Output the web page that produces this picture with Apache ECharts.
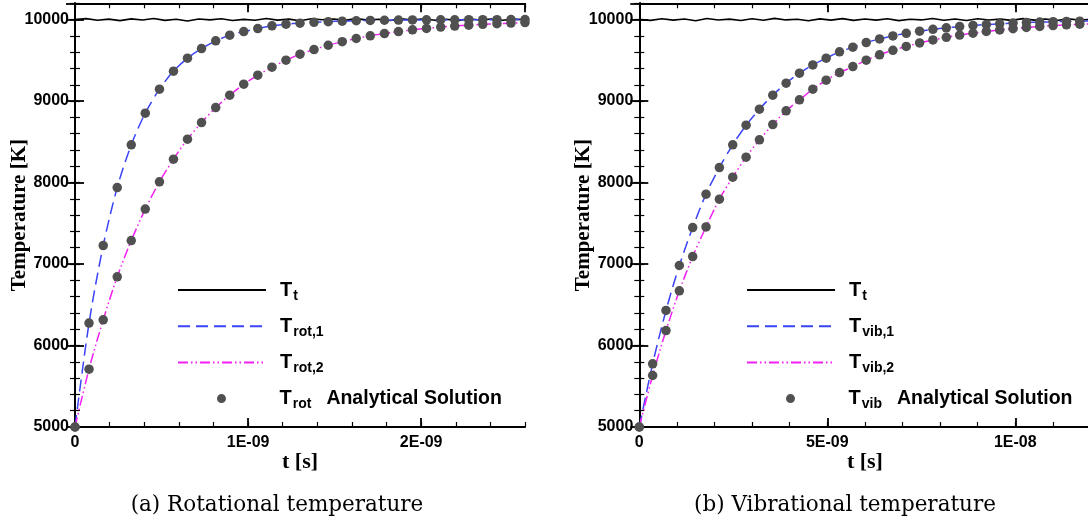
<!DOCTYPE html>
<html>
<head>
<meta charset="utf-8">
<script src="https://cdn.jsdelivr.net/npm/echarts@6.0.0/dist/echarts.min.js"></script>
<style>
html,body{margin:0;padding:0;background:#fff;}
#c{width:1088px;height:522px;}
</style>
</head>
<body>
<div id="c"></div>
<script>
// ---------- DATA (time in units of 1E-09 s) ----------
// (a) rotational
const tRot = [0, 0.081, 0.163, 0.244, 0.325, 0.406, 0.488, 0.569, 0.65, 0.731, 0.813, 0.894, 0.975, 1.056, 1.138, 1.219, 1.3, 1.381, 1.463, 1.544, 1.625, 1.706, 1.788, 1.869, 1.95, 2.031, 2.113, 2.194, 2.275, 2.356, 2.438, 2.519, 2.6];
const rot1 = [5000, 6275, 7227, 7939, 8463, 8852, 9146, 9367, 9526, 9644, 9739, 9809, 9853, 9890, 9923, 9944, 9956, 9966, 9975, 9981, 9986, 9990, 9992, 9994, 9996, 9997, 9998, 9998, 9999, 9999, 9999, 10000, 10000];
const rot2 = [5000, 5710, 6315, 6843, 7288, 7674, 8009, 8287, 8533, 8736, 8920, 9072, 9207, 9318, 9416, 9502, 9575, 9632, 9685, 9729, 9768, 9801, 9829, 9853, 9874, 9892, 9908, 9921, 9932, 9942, 9950, 9957, 9963];
const tTtRot = [0, 0.065, 0.13, 0.195, 0.26, 0.325, 0.39, 0.455, 0.52, 0.585, 0.65, 0.715, 0.78, 0.845, 0.91, 0.975, 1.04, 1.105, 1.17, 1.235, 1.3, 1.365, 1.43, 1.495, 1.56, 1.625, 1.69, 1.755, 1.82, 1.885, 1.95, 2.015, 2.08, 2.145, 2.21, 2.275, 2.34, 2.405, 2.47, 2.535, 2.6];
const TtRot = [10000, 10012, 9991, 10006, 9987, 10009, 9995, 10014, 9990, 10004, 9983, 10008, 9997, 10011, 9989, 10003, 9992, 10013, 9994, 10006, 9986, 10010, 9998, 10007, 9990, 10012, 9993, 10004, 9988, 10009, 9996, 10011, 9991, 10005, 9987, 10010, 9995, 10008, 9992, 10006, 9999];

// (b) vibrational
const tVib = [0, 0.355, 0.71, 1.065, 1.42, 1.775, 2.13, 2.485, 2.84, 3.195, 3.55, 3.905, 4.26, 4.615, 4.97, 5.325, 5.68, 6.035, 6.39, 6.745, 7.1, 7.455, 7.81, 8.165, 8.52, 8.875, 9.23, 9.585, 9.94, 10.295, 10.65, 11.005, 11.36, 11.715];
const vib1 = [5000, 5775, 6430, 6982, 7448, 7858, 8184, 8463, 8704, 8901, 9072, 9220, 9342, 9444, 9526, 9604, 9661, 9718, 9763, 9800, 9832, 9858, 9880, 9899, 9915, 9928, 9939, 9949, 9957, 9963, 9969, 9974, 9978, 9981];
const vib2 = [5000, 5632, 6184, 6671, 7092, 7456, 7796, 8066, 8312, 8524, 8712, 8880, 9015, 9146, 9256, 9350, 9423, 9502, 9568, 9623, 9671, 9713, 9750, 9782, 9810, 9833, 9855, 9873, 9889, 9904, 9916, 9927, 9936, 9944];
const tVibLineEnd = [12];
const vib1LineEnd = [9983];
const vib2LineEnd = [9948];
const tTtVib = [0, 0.3, 0.6, 0.9, 1.2, 1.5, 1.8, 2.1, 2.4, 2.7, 3, 3.3, 3.6, 3.9, 4.2, 4.5, 4.8, 5.1, 5.4, 5.7, 6, 6.3, 6.6, 6.9, 7.2, 7.5, 7.8, 8.1, 8.4, 8.7, 9, 9.3, 9.6, 9.9, 10.2, 10.5, 10.8, 11.1, 11.4, 11.7, 12];
const TtVib = [10000, 9990, 10011, 9993, 10008, 9986, 10013, 9995, 10006, 9989, 10010, 9992, 10015, 9996, 10004, 9985, 10009, 9993, 10012, 9990, 10007, 9994, 10011, 9987, 10005, 9996, 10013, 9991, 10008, 9988, 10010, 9995, 10006, 9990, 10012, 9993, 10007, 9989, 10011, 9994, 10003];

// tick labels
const xTickValsRot = [0, 1, 2];
const xTickLabelsRot = ['0', '1E-09', '2E-09'];
const xTickValsVib = [0, 5, 10];
const xTickLabelsVib = ['0', '5E-09', '1E-08'];
const yTickVals = [5000, 6000, 7000, 8000, 9000, 10000];
const yTickLabels = ['5000', '6000', '7000', '8000', '9000', '10000'];

const xAxisTitle = 't [s]';
const yAxisTitle = 'Temperature [K]';
const captions = ['(a) Rotational temperature', '(b) Vibrational temperature'];

// ---------- helpers ----------
const pairs = (xs, ys) => xs.map((x, i) => [x, ys[i]]);
const lookup = (vals, labs) => v => {
  for (let i = 0; i < vals.length; i++) if (Math.abs(v - vals[i]) < 1e-6) return labs[i];
  return '';
};

const SANS = 'Liberation Sans';
const SERIF = 'Liberation Serif';
const BLUE = '#3a44f6';
const PINK = '#f21ef2';
const DOT = '#505050';

function axesFor(gi, xMax, xMajor, xMinor, xFmt) {
  const common = {type: 'value', gridIndex: gi, splitLine: {show: false}};
  const xs = [
    Object.assign({}, common, {min: 0, max: xMax, interval: xMajor, position: 'bottom',
      axisLine: {show: true, lineStyle: {color: '#000', width: 2}},
      axisTick: {show: true, inside: true, length: 9, lineStyle: {color: '#000', width: 1.8}},
      axisLabel: {show: true, margin: 8, formatter: xFmt, color: '#000', fontFamily: SANS, fontWeight: 'bold', fontSize: 16, showMaxLabel: false},
      name: xAxisTitle, nameLocation: 'middle', nameGap: 24, nameMoveOverlap: false,
      nameTextStyle: {fontFamily: SERIF, fontWeight: 'bold', fontSize: 22, color: '#000'}}),
    Object.assign({}, common, {min: 0, max: xMax, interval: xMinor, position: 'bottom',
      axisLine: {show: false}, axisLabel: {show: false},
      axisTick: {show: true, inside: true, length: 5, lineStyle: {color: '#000', width: 1.2}}}),
    Object.assign({}, common, {min: 0, max: xMax, interval: xMajor, position: 'top',
      axisLine: {show: true, lineStyle: {color: '#000', width: 2}}, axisLabel: {show: false},
      axisTick: {show: true, inside: true, length: 9, lineStyle: {color: '#000', width: 1.8}}}),
    Object.assign({}, common, {min: 0, max: xMax, interval: xMinor, position: 'top',
      axisLine: {show: false}, axisLabel: {show: false},
      axisTick: {show: true, inside: true, length: 5, lineStyle: {color: '#000', width: 1.2}}})
  ];
  const ys = [
    Object.assign({}, common, {min: 5000, max: 10200, interval: 1000, position: 'left',
      axisLine: {show: true, lineStyle: {color: '#000', width: 2}},
      axisTick: {show: true, inside: true, length: 9, lineStyle: {color: '#000', width: 1.8}},
      axisLabel: {show: true, margin: 6, formatter: lookup(yTickVals, yTickLabels), color: '#000', fontFamily: SANS, fontWeight: 'bold', fontSize: 16},
      name: yAxisTitle, nameLocation: 'middle', nameGap: 45, nameMoveOverlap: false,
      nameTextStyle: {fontFamily: SERIF, fontWeight: 'bold', fontSize: 21, color: '#000'}}),
    Object.assign({}, common, {min: 5000, max: 10200, interval: 200, position: 'left',
      axisLine: {show: false}, axisLabel: {show: false},
      axisTick: {show: true, inside: true, length: 5, lineStyle: {color: '#000', width: 1.2}}}),
    Object.assign({}, common, {min: 5000, max: 10200, interval: 1000, position: 'right',
      axisLine: {show: true, lineStyle: {color: '#000', width: 2}}, axisLabel: {show: false},
      axisTick: {show: true, inside: true, length: 9, lineStyle: {color: '#000', width: 1.8}}}),
    Object.assign({}, common, {min: 5000, max: 10200, interval: 200, position: 'right',
      axisLine: {show: false}, axisLabel: {show: false},
      axisTick: {show: true, inside: true, length: 5, lineStyle: {color: '#000', width: 1.2}}})
  ];
  return {xs, ys};
}

const A = axesFor(0, 2.6, 1, 0.2, lookup(xTickValsRot, xTickLabelsRot));
const B = axesFor(1, 12, 5, 1, lookup(xTickValsVib, xTickLabelsVib));

const legendText = {
  'Tt_a': '{T|T}{s|t}',
  'Trot1': '{T|T}{s|rot,1}',
  'Trot2': '{T|T}{s|rot,2}',
  'Trot': '{T|T}{s|rot}{a|Analytical Solution}',
  'Tt_b': '{T|T}{s|t}',
  'Tvib1': '{T|T}{s|vib,1}',
  'Tvib2': '{T|T}{s|vib,2}',
  'Tvib': '{T|T}{s|vib}{a|Analytical Solution}'
};
const rich = {
  T: {fontFamily: SANS, fontWeight: 'bold', fontSize: 20, color: '#000', padding: [0, 0, 0, 9]},
  s: {fontFamily: SANS, fontWeight: 'bold', fontSize: 14, color: '#000', padding: [12, 0, 0, 1]},
  a: {fontFamily: SANS, fontWeight: 'bold', fontSize: 19.5, color: '#000', padding: [0, 0, 0, 15]}
};
const rowTops = [280, 316.3, 352.6, 388.6];
function legendRow(left, top, name, isLine) {
  const item = isLine ? {name, itemStyle: {opacity: 0, color: 'rgba(0,0,0,0)', borderWidth: 0}} : {name};
  return {
    orient: 'vertical', left: left, top: top, padding: 0, itemWidth: 88, itemHeight: 9, itemGap: 0,
    selectedMode: false, data: [item], formatter: n => legendText[n],
    textStyle: {rich: rich}
  };
}
const legends = [];
[['Tt_a', true], ['Trot1', true], ['Trot2', true], ['Trot', false]].forEach((d, i) => legends.push(legendRow(d[1] ? 177 : 217, rowTops[i], d[0], d[1])));
[['Tt_b', true], ['Tvib1', true], ['Tvib2', true], ['Tvib', false]].forEach((d, i) => legends.push(legendRow(d[1] ? 746 : 786, rowTops[i], d[0], d[1])));

function lineSeries(name, xi, yi, data, color, type, w, smooth) {
  return {name, type: 'line', xAxisIndex: xi, yAxisIndex: yi, data, symbol: 'none', smooth: smooth,
    lineStyle: {color, type, width: w}, itemStyle: {color}, z: 3, silent: true};
}
function dotSeries(name, xi, yi, data) {
  return {name, type: 'scatter', xAxisIndex: xi, yAxisIndex: yi, data, symbol: 'circle', symbolSize: 9.5,
    itemStyle: {color: DOT, opacity: 1}, clip: false, z: 5, silent: true};
}

const option = {
  animation: false,
  backgroundColor: '#fff',
  grid: [
    {left: 75, top: 3.3, width: 450, height: 423.7, outerBoundsMode: 'none', containLabel: false},
    {left: 639.3, top: 3.3, width: 451.2, height: 423.7, outerBoundsMode: 'none', containLabel: false}
  ],
  xAxis: A.xs.concat(B.xs),
  yAxis: A.ys.concat(B.ys),
  legend: legends,
  series: [
    lineSeries('Tt_a', 0, 0, pairs(tTtRot, TtRot), '#000', 'solid', 1.6, false),
    lineSeries('Trot1', 0, 0, pairs(tRot, rot1), BLUE, [12, 6], 1.5, 0.3),
    lineSeries('Trot2', 0, 0, pairs(tRot, rot2), PINK, [10, 3, 1.5, 3, 1.5, 3], 1.5, 0.3),
    dotSeries('Trot', 0, 0, pairs(tRot, rot1)),
    dotSeries('Trot', 0, 0, pairs(tRot, rot2)),
    lineSeries('Tt_b', 4, 4, pairs(tTtVib, TtVib), '#000', 'solid', 1.6, false),
    lineSeries('Tvib1', 4, 4, pairs(tVib.concat(tVibLineEnd), vib1.concat(vib1LineEnd)), BLUE, [12, 6], 1.5, 0.3),
    lineSeries('Tvib2', 4, 4, pairs(tVib.concat(tVibLineEnd), vib2.concat(vib2LineEnd)), PINK, [10, 3, 1.5, 3, 1.5, 3], 1.5, 0.3),
    dotSeries('Tvib', 4, 4, pairs(tVib, vib1)),
    dotSeries('Tvib', 4, 4, pairs(tVib, vib2))
  ],
  graphic: [
    {type: 'text', x: 277, y: 505, style: {text: captions[0], align: 'center', verticalAlign: 'middle', fontFamily: 'DejaVu Serif', fontSize: 21.5, fill: '#000'}},
    {type: 'text', x: 845, y: 505, style: {text: captions[1], align: 'center', verticalAlign: 'middle', fontFamily: 'DejaVu Serif', fontSize: 21.5, fill: '#000'}}
  ]
};

const chart = echarts.init(document.getElementById('c'), null, {renderer: 'canvas'});
chart.setOption(option);
</script>
</body>
</html>
